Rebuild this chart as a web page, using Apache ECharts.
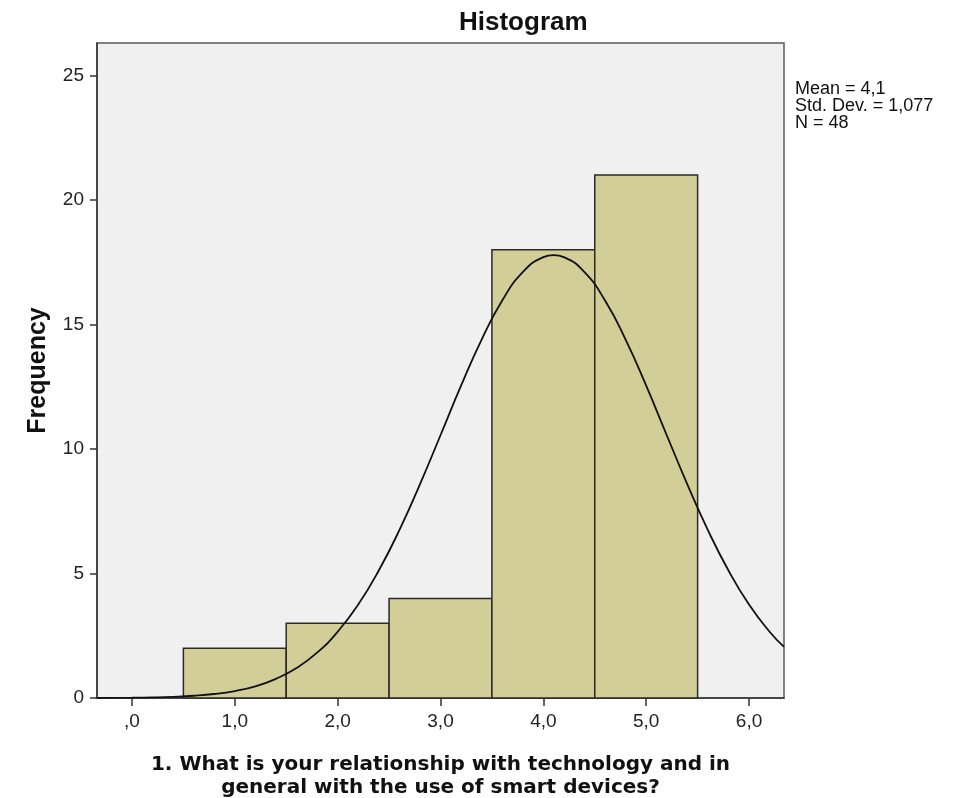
<!DOCTYPE html>
<html>
<head>
<meta charset="utf-8">
<script src="https://cdn.jsdelivr.net/npm/echarts@6/dist/echarts.min.js"></script>
<style>html,body{margin:0;padding:0;background:#fff}#c{width:961px;height:798px}</style>
</head>
<body>
<div id="c"></div>
<script>
// Histogram bins (bin start, bin end, frequency)
var binStart = [0.5, 1.5, 2.5, 3.5, 4.5];
var binEnd = [1.5, 2.5, 3.5, 4.5, 5.5];
var frequency = [2, 3, 4, 18, 21];
// Normal curve (x, frequency)
var curveX = [-0.34, 0.0, 0.2, 0.4, 0.6, 0.8, 1.0, 1.2, 1.4, 1.6, 1.8, 2.0, 2.2, 2.4, 2.6, 2.8, 3.0, 3.2, 3.4, 3.6, 3.8, 4.0, 4.1, 4.2, 4.4, 4.6, 4.8, 5.0, 5.2, 5.4, 5.6, 5.8, 6.0, 6.2, 6.34];
var curveY = [0.004, 0.013, 0.025, 0.049, 0.09, 0.16, 0.28, 0.47, 0.77, 1.20, 1.82, 2.66, 3.75, 5.12, 6.74, 8.58, 10.55, 12.54, 14.39, 15.96, 17.10, 17.70, 17.78, 17.70, 17.10, 15.96, 14.39, 12.54, 10.55, 8.58, 6.74, 5.12, 3.75, 2.66, 2.05];
var xTicks = [0, 1, 2, 3, 4, 5, 6];
var yTicks = [0, 5, 10, 15, 20, 25];
var statsLines = ['Mean = 4,1', 'Std. Dev. = 1,077', 'N = 48'];

var chart = echarts.init(document.getElementById('c'));
var barData = binStart.map(function (s, i) { return [s, binEnd[i], frequency[i]]; });
var curveData = curveX.map(function (x, i) { return [x, curveY[i]]; });
var font = '"Liberation Sans", Arial, sans-serif';
var wideFont = '"DejaVu Sans", Verdana, sans-serif';
function fmt(v) {
  var s = v.toFixed(1).replace('.', ',');
  return s.charAt(0) === '0' ? s.substring(1) : s;
}
chart.setOption({
  animation: false,
  backgroundColor: '#ffffff',
  title: {
    text: 'Histogram', left: 454, top: 5,
    textStyle: { fontFamily: font, fontSize: 26, fontWeight: 'bold', color: '#111' }
  },
  grid: { left: 97, top: 43, right: 177, bottom: 100, outerBoundsMode: 'none', containLabel: false, show: true, backgroundColor: '#f0f0f0', borderColor: '#5a5a5a', borderWidth: 1.5 },
  xAxis: {
    type: 'value', min: -0.34, max: 6.34,
    name: '1. What is your relationship with technology and in\ngeneral with the use of smart devices?',
    nameLocation: 'middle', nameGap: 55,
    nameTextStyle: { fontFamily: wideFont, fontSize: 20, fontWeight: 'bold', color: '#111', lineHeight: 23 },
    axisLine: { show: true, onZero: false, lineStyle: { color: '#333', width: 1.5 } },
    axisTick: { show: true, length: 8, customValues: xTicks, lineStyle: { color: '#333', width: 1.5 } },
    axisLabel: { customValues: xTicks, formatter: fmt, margin: 14, fontFamily: font, fontSize: 19, color: '#222' },
    splitLine: { show: false }
  },
  yAxis: {
    type: 'value', min: 0, max: 26.3,
    name: 'Frequency', nameLocation: 'middle', nameGap: 46, nameRotate: 90,
    nameTextStyle: { fontFamily: font, fontSize: 25, fontWeight: 'bold', color: '#111' },
    axisLine: { show: true, onZero: false, lineStyle: { color: '#333', width: 1.5 } },
    axisTick: { show: true, length: 7, customValues: yTicks, lineStyle: { color: '#333', width: 1.5 } },
    axisLabel: { customValues: yTicks, margin: 13, fontFamily: font, fontSize: 19, color: '#222' },
    splitLine: { show: false }
  },
  graphic: [{
    type: 'text', left: 795, top: 80,
    style: { text: statsLines.join('\n'), fontFamily: font, fontSize: 18, lineHeight: 17, fill: '#111' }
  }],
  series: [{
    type: 'custom',
    data: barData,
    encode: { x: [0, 1], y: 2 },
    renderItem: function (params, api) {
      var p0 = api.coord([api.value(0), api.value(2)]);
      var p1 = api.coord([api.value(1), 0]);
      return {
        type: 'rect',
        shape: { x: p0[0], y: p0[1], width: p1[0] - p0[0], height: p1[1] - p0[1] },
        style: { fill: '#d3ce98', stroke: '#2a2a2a', lineWidth: 1.5 }
      };
    },
    z: 2
  }, {
    type: 'line', data: curveData, smooth: true, showSymbol: false, symbol: 'none',
    lineStyle: { color: '#111', width: 1.8 }, z: 3
  }]
});
</script>
</body>
</html>
